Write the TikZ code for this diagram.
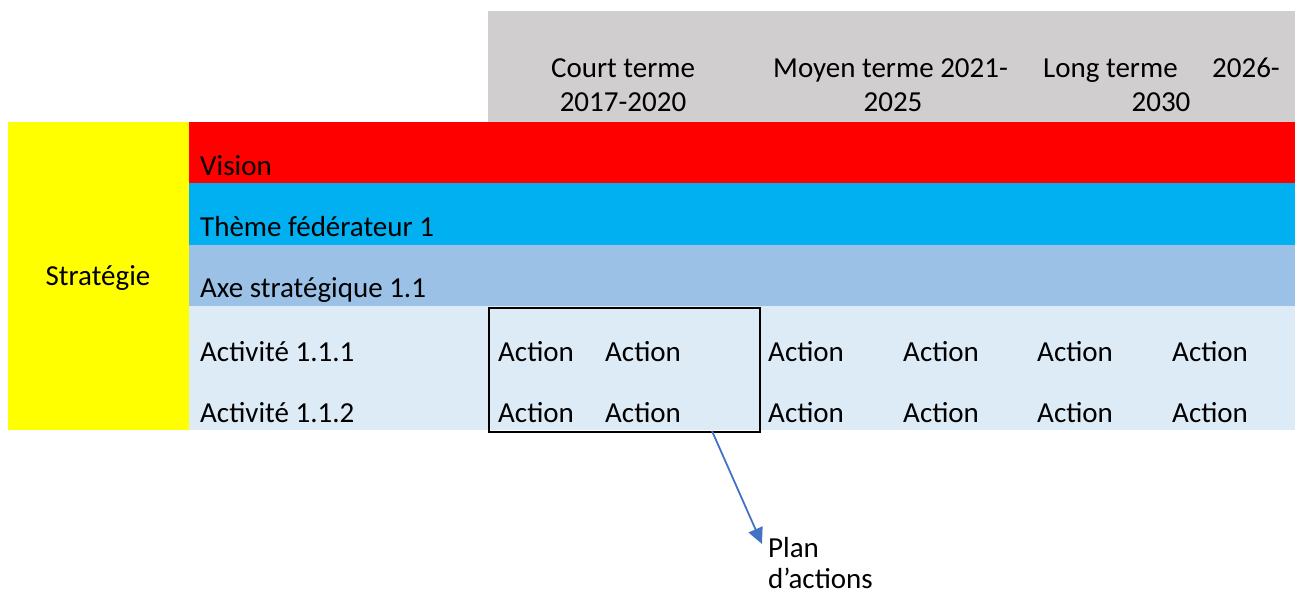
\documentclass[tikz,border=0pt]{standalone}
\usepackage{fontspec}
\setmainfont{Carlito}
\usetikzlibrary{arrows.meta,positioning}

\definecolor{headgray}{RGB}{208,206,206}
\definecolor{visred}{RGB}{255,0,0}
\definecolor{themecyan}{RGB}{0,176,240}
\definecolor{axeblue}{RGB}{155,194,230}
\definecolor{actpale}{RGB}{221,235,247}
\definecolor{stratyellow}{RGB}{255,255,0}
\definecolor{arrowblue}{RGB}{68,114,196}

\begin{document}
\begin{tikzpicture}[x=1pt, y=-1pt, >={Triangle[length=16pt,width=15pt]}]
	\tikzstyle{every node}=[font=\fontsize{29}{34}\selectfont, inner sep=0pt]
	\tikzstyle{lbl}=[anchor=base west]
	\tikzstyle{hdr}=[anchor=base]
	\useasboundingbox (0,0) rectangle (1295,591);
	% bands
	\fill[headgray] (488,11) rectangle (1295,122);
	\fill[stratyellow] (8,122) rectangle (189,430);
	\fill[visred] (189,122) rectangle (1295,183);
	\fill[themecyan] (189,183) rectangle (1295,245);
	\fill[axeblue] (189,245) rectangle (1295,306);
	\fill[actpale] (189,306) rectangle (1295,430);
	% header
	\node[hdr] (COURT) at (623,78) {Court terme};
	\node[hdr] (COURTY) at (623,112) {2017-2020};
	\node[lbl] (MOYEN) at (773,78) {Moyen terme 2021-};
	\node[hdr] (MOYENY) at (893,112) {2025};
	\node[lbl] (LONG) at (1043,78) {Long terme};
	\node[anchor=base east] (LONGA) at (1280,78) {2026-};
	\node[hdr] (LONGY) at (1161,112) {2030};
	% rows
	\node[hdr] (STRAT) at (98,285) {Stratégie};
	\node[lbl] (VISION) at (200,175) {Vision};
	\node[lbl] (THEME) at (200,236) {Thème fédérateur 1};
	\node[lbl] (AXE) at (200,297) {Axe stratégique 1.1};
	\node[lbl] (ACTA) at (200,361) {Activité 1.1.1};
	\node[lbl] (ACTB) at (200,422) {Activité 1.1.2};
	% actions
	\node[lbl] (A1) at (498,361) {Action};
	\node[lbl] (A2) at (605,361) {Action};
	\node[lbl] (A3) at (768,361) {Action};
	\node[lbl] (A4) at (903,361) {Action};
	\node[lbl] (A5) at (1037,361) {Action};
	\node[lbl] (A6) at (1172,361) {Action};
	\node[lbl] (B1) at (498,422) {Action};
	\node[lbl] (B2) at (605,422) {Action};
	\node[lbl] (B3) at (768,422) {Action};
	\node[lbl] (B4) at (903,422) {Action};
	\node[lbl] (B5) at (1037,422) {Action};
	\node[lbl] (B6) at (1172,422) {Action};
	% short term box and plan
	\node[draw, line width=1.6pt, anchor=north west, minimum width=271pt, minimum height=124pt] (BOX) at (488,307) {};
	\node[lbl, align=left, font=\fontsize{29}{31}\selectfont] (PLAN) at (768,588) {Plan\\d’actions};
	\coordinate (TAIL) at (712,431);
	\coordinate (TIP) at (762,544);
	\draw[->, arrowblue, line width=1.8pt] (TAIL) -- (TIP);
\end{tikzpicture}
\end{document}
